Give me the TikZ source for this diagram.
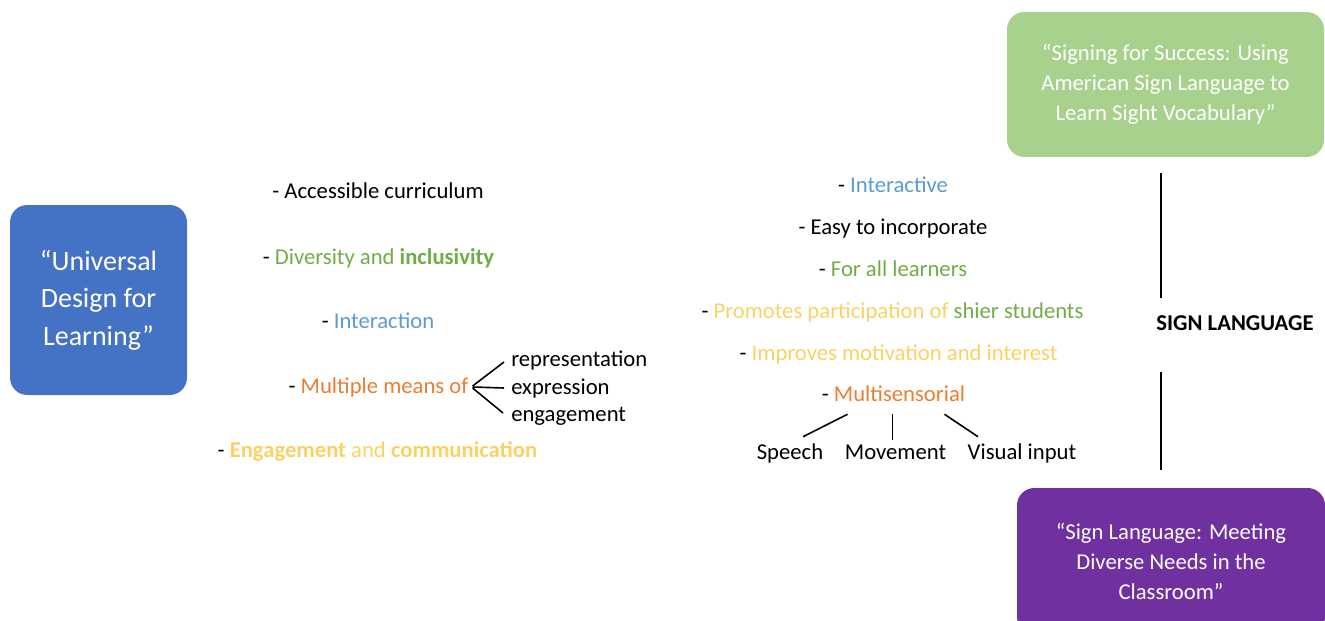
\documentclass[tikz,border=0pt]{standalone}
\usepackage{fontspec}
\setmainfont{Carlito}
\usetikzlibrary{calc}

\definecolor{udlblue}{HTML}{4472C4}
\definecolor{aslgreen}{HTML}{A9D18E}
\definecolor{aslpurple}{HTML}{7030A0}
\definecolor{tblue}{HTML}{5B9BD5}
\definecolor{tgreen}{HTML}{70AD47}
\definecolor{torange}{HTML}{ED7D31}
\definecolor{tyellow}{HTML}{FAD264}

\tikzset{
  box/.style={rounded corners=13pt, text=white, align=center, inner sep=0pt},
  item/.style={inner sep=0pt, text height=13pt, text depth=2pt,
    font=\fontsize{17}{20}\selectfont},
  link/.style={line width=1.2pt}
}

\begin{document}
\begin{tikzpicture}[x=0.75pt,y=-0.75pt]
  \useasboundingbox (0,0) rectangle (1325,621);

  % the three sources
  \node[box, fill=udlblue, minimum width=132.75pt, minimum height=142.5pt,
        font=\fontsize{21}{28}\selectfont] (udl) at (98.5,300)
        {``Universal\\Design for\\Learning''};
  \node[box, fill=aslgreen, minimum width=237.75pt, minimum height=108.75pt,
        font=\fontsize{17}{22.5}\selectfont] (green) at (1165.5,84.5)
        {``Signing for Success: Using\\American Sign Language to\\Learn Sight Vocabulary''};
  \node[box, fill=aslpurple, minimum width=231pt, minimum height=109.5pt,
        font=\fontsize{17}{22.5}\selectfont] (purple) at (1171,561)
        {``Sign Language: Meeting\\Diverse Needs in the\\Classroom''};

  % UDL points
  \node[item] (acc) at (378,191) {- Accessible curriculum};
  \node[item] (div) at (378.5,257) {- \textcolor{tgreen}{Diversity and \textbf{inclusivity}}};
  \node[item] (inter) at (378,321) {- \textcolor{tblue}{Interaction}};
  \node[item] (mult) at (378.5,386) {- \textcolor{torange}{Multiple means of}};
  \node[item, anchor=west] (rep) at (511,359) {representation};
  \node[item, anchor=west] (expr) at (511,387) {expression};
  \node[item, anchor=west] (eng) at (511,414) {engagement};
  \node[item] (eac) at (377.5,450)
    {- \textcolor{tyellow}{\textbf{Engagement} and \textbf{communication}}};

  \draw[link] ($(mult.east)+(4,0)$) -- ($(rep.west)+(-7,3)$);
  \draw[link] ($(mult.east)+(4,1)$) -- ($(expr.west)+(-7,1)$);
  \draw[link] ($(mult.east)+(4,2)$) -- ($(eng.west)+(-8,-1)$);

  % sign language points
  \node[item] (ia) at (893,185) {- \textcolor{tblue}{Interactive}};
  \node[item] (easy) at (893,227) {- Easy to incorporate};
  \node[item] (all) at (893,269) {- \textcolor{tgreen}{For all learners}};
  \node[item] (prom) at (892.5,311)
    {- \textcolor{tyellow}{Promotes participation of} \textcolor{tgreen}{shier students}};
  \node[item] (impr) at (898.5,353) {- \textcolor{tyellow}{Improves motivation and interest}};
  \node[item] (multi) at (893.5,394) {- \textcolor{torange}{Multisensorial}};
  \node[item] (speech) at (790,452) {Speech};
  \node[item] (move) at (895.5,452) {Movement};
  \node[item] (vis) at (1022,452) {Visual input};

  \draw[link] ($(multi.south)+(-46,10)$) -- ($(speech.north)+(13,-5)$);
  \draw[link] ($(multi.south)+(-1,10)$) -- ($(move.north)+(-3,-2)$);
  \draw[link] ($(multi.south)+(51,10)$) -- ($(vis.north)+(-44,-5)$);

  % topic in the middle of the vertical line
  \node[item, font=\fontsize{17}{20}\selectfont\bfseries] (sign) at (1235,323) {SIGN LANGUAGE};
  \draw[link] ($(green.south)+(-4.5,16)$) -- ($(green.south |- sign.north)+(-4.5,-15)$);
  \draw[link] ($(green.south |- sign.south)+(-4.5,39)$) -- ($(purple.north)+(-10,-18)$);
\end{tikzpicture}
\end{document}
